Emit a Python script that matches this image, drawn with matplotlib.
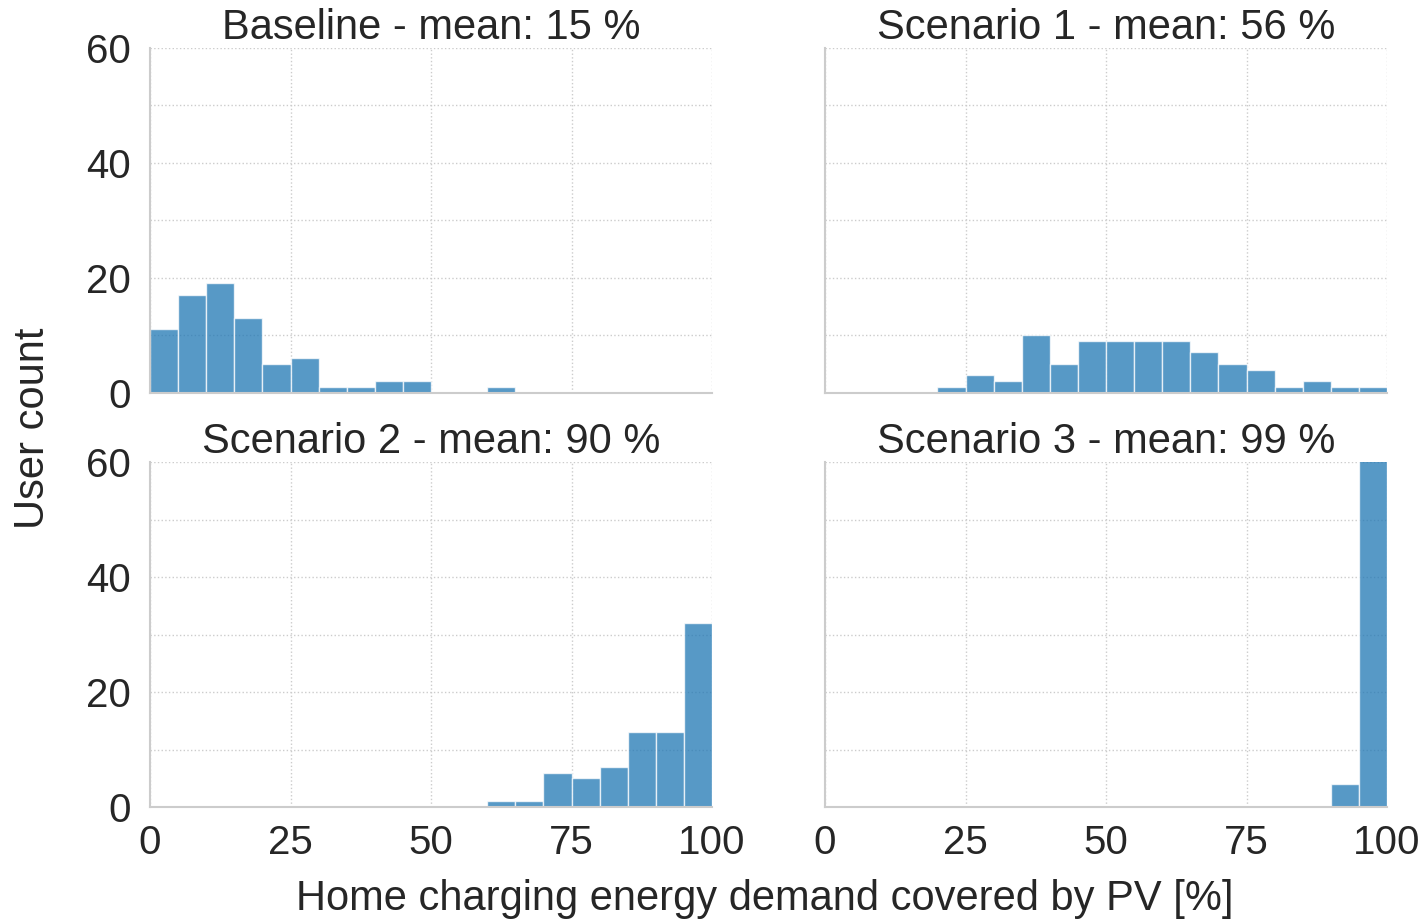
import numpy as np
import matplotlib
matplotlib.use('Agg')
import matplotlib.pyplot as plt
from matplotlib.ticker import MultipleLocator

# Histogram data: 20 bins of 5 % width from 0 to 100
bin_edges = np.arange(0, 101, 5)
titles = ['Baseline - mean: 15 %', 'Scenario 1 - mean: 56 %',
          'Scenario 2 - mean: 90 %', 'Scenario 3 - mean: 99 %']
baseline = [11, 17, 19, 13, 5, 6, 1, 1, 2, 2, 0, 0, 1, 0, 0, 0, 0, 0, 0, 0]
scenario1 = [0, 0, 0, 0, 1, 3, 2, 10, 5, 9, 9, 9, 9, 7, 5, 4, 1, 2, 1, 1]
scenario2 = [0, 0, 0, 0, 0, 0, 0, 0, 0, 0, 0, 0, 1, 1, 6, 5, 7, 13, 13, 32]
scenario3 = [0, 0, 0, 0, 0, 0, 0, 0, 0, 0, 0, 0, 0, 0, 0, 0, 0, 0, 4, 74]
counts = [baseline, scenario1, scenario2, scenario3]

plt.rcParams['font.family'] = ['Liberation Sans', 'DejaVu Sans']
text_color = '#262626'

fig, axes = plt.subplots(2, 2, figsize=(14.22, 9.21), dpi=100, sharex=True, sharey=True)
plt.subplots_adjust(left=0.1055, right=0.9754, top=0.9479, bottom=0.1238,
                    wspace=0.201, hspace=0.203)

for ax, c, t in zip(axes.flat, counts, titles):
    ax.bar(bin_edges[:-1], c, width=5, align='edge', color='#1f77b4', alpha=0.75,
           edgecolor='white', linewidth=1, zorder=2)
    ax.set_title(t, fontsize=30, color=text_color, pad=3)
    ax.set_xlim(0, 100)
    ax.set_ylim(0, 60)
    ax.xaxis.set_major_locator(MultipleLocator(25))
    ax.yaxis.set_major_locator(MultipleLocator(20))
    ax.yaxis.set_minor_locator(MultipleLocator(10))
    ax.grid(True, which='both', linestyle=':', color='#cccccc', linewidth=1, zorder=0)
    ax.set_axisbelow(True)
    ax.spines['top'].set_visible(False)
    ax.spines['right'].set_visible(False)
    for s in ['left', 'bottom']:
        ax.spines[s].set_color('#cccccc')
        ax.spines[s].set_linewidth(1.5)
    ax.tick_params(which='both', length=0, labelsize=29, labelcolor=text_color)
    ax.tick_params(axis='y', pad=14)
    ax.tick_params(axis='x', pad=12)

fig.text(0.023, 0.535, 'User count', rotation=90, fontsize=30, color=text_color,
         ha='center', va='center')
fig.text(0.538, 0.024, 'Home charging energy demand covered by PV [%]', fontsize=30,
         color=text_color, ha='center', va='center')

plt.savefig('out.png', dpi=100)
